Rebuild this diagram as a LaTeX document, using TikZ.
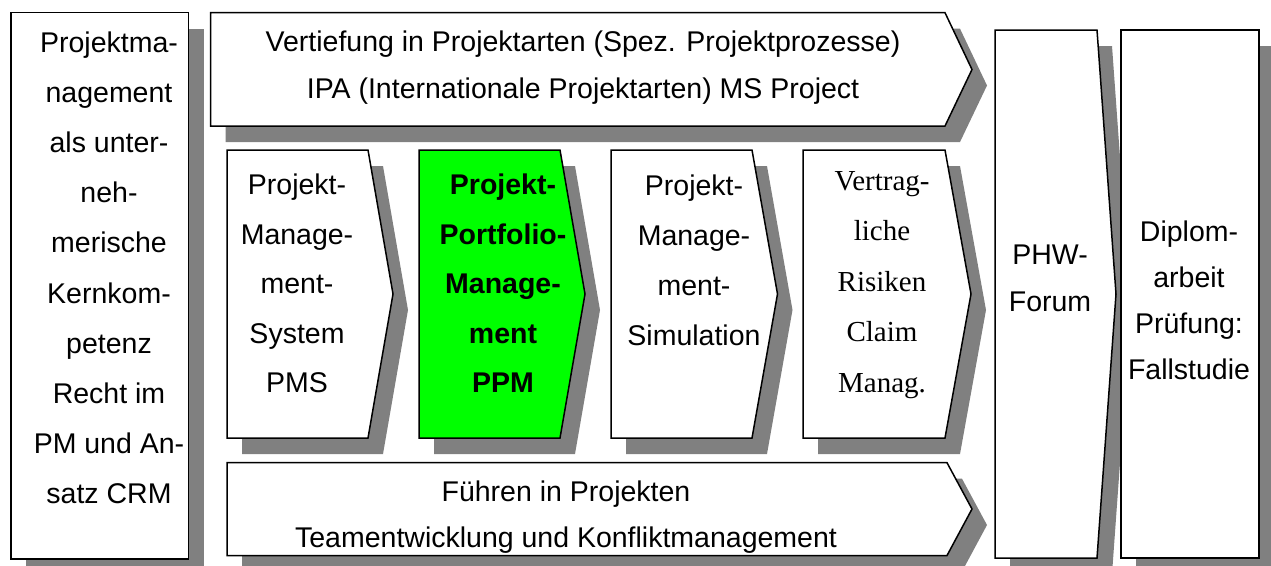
\documentclass[tikz,border=0pt]{standalone}
\usepackage{fontspec}
\setmainfont{Liberation Sans}
\newfontfamily\serifface{Liberation Serif}
\definecolor{shadowgray}{HTML}{808080}
\definecolor{ppmgreen}{HTML}{00FF00}
% a block: grey drop shadow first, then the outlined shape on top
\newcommand{\block}[2]{%
  \fill[shadowgray,shift={(15,16)}] #1;
  \draw[blockline,#2] #1;}
\begin{document}
\begin{tikzpicture}[x=1pt,y=-1pt,
  blockline/.style={draw=black,line width=1.5pt,line join=miter,fill=white},
  txt/.style={inner sep=0pt,align=center,font=\fontsize{28.5}{#1}\selectfont},
  txt/.default=50]
\useasboundingbox (0,0) rectangle (1271,565);

% left column
\block{(11,12.7) rectangle (188.7,559)}{}
% top band
\block{(210.7,12.7) -- (945,12.7) -- (972,69.5) -- (945,126) -- (210.7,126) -- cycle}{}
% middle row of chevrons
\block{(227,150) -- (368,150) -- (393,294) -- (368,438) -- (227,438) -- cycle}{}
\block{(419,150) -- (560,150) -- (585,294) -- (560,438) -- (419,438) -- cycle}{fill=ppmgreen}
\block{(611,150) -- (752,150) -- (777.5,294) -- (752,438) -- (611,438) -- cycle}{}
\block{(803,150) -- (945,150) -- (971,294) -- (945,438) -- (803,438) -- cycle}{}
% bottom band
\block{(227,462.7) -- (947,462.7) -- (972,509) -- (947,555.5) -- (227,555.5) -- cycle}{}
% right columns
\block{(995,30) -- (1097,30) -- (1116,294) -- (1097,558) -- (995,558) -- cycle}{}
\block{(1121,30) rectangle (1259,558)}{}

% labels
\node[txt=50.2] (kern) at (109,268) {\strut Projektma-\\\strut nagement\\\strut als unter-\\\strut neh-\\\strut merische\\\strut Kernkom-\\\strut petenz\\\strut Recht im\\\strut PM und An-\\\strut satz CRM};
\node[txt=47] (vert) at (583,65.5) {\strut Vertiefung in Projektarten (Spez. Projektprozesse)\\\strut IPA (Internationale Projektarten) MS Project};
\node[txt=49.5] (pms) at (297,284) {\strut Projekt-\\\strut Manage-\\\strut ment-\\\strut System\\\strut PMS};
\node[txt=49.5,font={\fontsize{28.5}{49.5}\selectfont\bfseries}] (ppm) at (503,284) {\strut Projekt-\\\strut Portfolio-\\\strut Manage-\\\strut ment\\\strut PPM};
\node[txt=50] (sim) at (694,260) {\strut Projekt-\\\strut Manage-\\\strut ment-\\\strut Simulation};
\node[txt=50.5,font=\fontsize{29}{50.5}\serifface] (risk) at (882,281) {\strut Vertrag-\\\strut liche\\\strut Risiken\\\strut Claim\\\strut Manag.};
\node[txt=46] (fuehr) at (566,515) {\strut Führen in Projekten\\\strut Teamentwicklung und Konfliktmanagement};
\node[txt=47] (phw) at (1050,278.5) {\strut PHW-\\\strut Forum};
\node[txt=46] (dipl) at (1189,301) {\strut Diplom-\\\strut arbeit\\\strut Prüfung:\\\strut Fallstudie};
\end{tikzpicture}
\end{document}
